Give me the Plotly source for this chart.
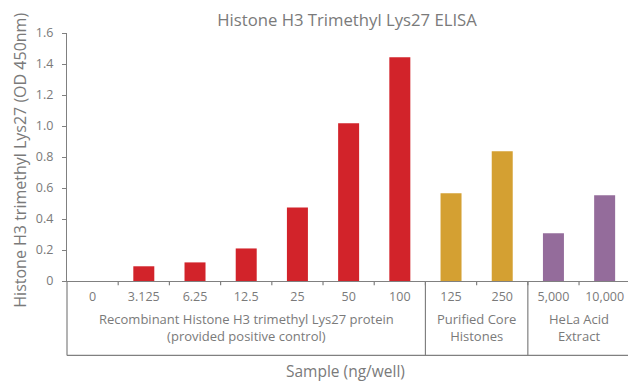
import plotly.graph_objects as go

# Sample amounts (ng/well) and measured OD 450nm
samples = ["0", "3.125", "6.25", "12.5", "25", "50", "100", "125", "250", "5,000", "10,000"]
od450 = [0.0, 0.095, 0.12, 0.21, 0.475, 1.017, 1.443, 0.566, 0.837, 0.308, 0.553]
groups = ["rec", "rec", "rec", "rec", "rec", "rec", "rec", "core", "core", "hela", "hela"]

group_colors = {"rec": "#D2232A", "core": "#D4A032", "hela": "#946C9B"}

y_tickvals = [0, 0.2, 0.4, 0.6, 0.8, 1.0, 1.2, 1.4, 1.6]
y_ticktext = ["0", "0.2", "0.4", "0.6", "0.8", "1.0", "1.2", "1.4", "1.6"]

FONT = "Open Sans"
GREY = "#808080"
TEXT = "#7a7a7a"

# figure geometry (pixels)
W, H = 628, 381
L, T = 66.5, 33
B = 100.3
plot_h = H - T - B


def py(pix):
    """Convert a pixel row to paper y."""
    return (H - B - pix) / plot_h


fig = go.Figure(
    go.Bar(
        x=list(range(len(samples))),
        y=od450,
        marker=dict(color=[group_colors[g] for g in groups], line=dict(width=0)),
        width=0.41,
        hoverinfo="x+y",
    )
)

# group separators and the box under the sample labels
bottom = py(355)
shapes = [
    dict(type="line", xref="paper", yref="paper", x0=0, x1=0, y0=0, y1=bottom,
         line=dict(color=GREY, width=1.2)),
    dict(type="line", xref="paper", yref="paper", x0=0, x1=1, y0=bottom, y1=bottom,
         line=dict(color=GREY, width=1.2)),
]
for xb in (6.5, 8.5):
    shapes.append(dict(type="line", xref="x", yref="paper", x0=xb, x1=xb, y0=0, y1=bottom,
                       line=dict(color=GREY, width=1.2)))

annotations = []
group_labels = [
    (3, "Recombinant Histone H3 trimethyl Lys27 protein<br>(provided positive control)"),
    (7.5, "Purified Core<br>Histones"),
    (9.5, "HeLa Acid<br>Extract"),
]
for xc, text in group_labels:
    annotations.append(dict(x=xc, y=py(327), xref="x", yref="paper", text=text,
                            showarrow=False, xanchor="center", yanchor="middle",
                            font=dict(family=FONT, size=13, color=TEXT)))

# axis titles
annotations.append(dict(x=(345 - L) / (W - L), y=py(371), xref="paper", yref="paper",
                        text="Sample (ng/well)", showarrow=False,
                        xanchor="center", yanchor="middle",
                        font=dict(family=FONT, size=15.5, color=TEXT)))
annotations.append(dict(x=(20 - L) / (W - L), y=py(160), xref="paper", yref="paper",
                        text="Histone H3 trimethyl Lys27 (OD 450nm)", showarrow=False,
                        textangle=-90, xanchor="center", yanchor="middle",
                        font=dict(family=FONT, size=16, color=TEXT)))

fig.update_layout(
    width=W, height=H,
    margin=dict(l=L, r=0, t=T, b=B, pad=0),
    paper_bgcolor="white", plot_bgcolor="white",
    showlegend=False,
    title=dict(text="Histone H3 Trimethyl Lys27 ELISA", x=347 / W, xanchor="center",
               y=1 - 20 / H, yanchor="middle",
               font=dict(family=FONT, size=16.7, color=TEXT)),
    xaxis=dict(
        range=[-0.5, -0.5 + (W - L) / 51.25],
        tickmode="array", tickvals=list(range(len(samples))), ticktext=samples,
        showgrid=False, zeroline=False,
        showline=True, linecolor=GREY, linewidth=1.2,
        ticks="", ticklabelstandoff=4,
        tickfont=dict(family=FONT, size=12.5, color=TEXT),
        fixedrange=True,
    ),
    yaxis=dict(
        range=[0, 1.6],
        tickmode="array", tickvals=y_tickvals, ticktext=y_ticktext,
        showgrid=False, zeroline=False,
        showline=True, linecolor=GREY, linewidth=1.2,
        ticks="outside", ticklen=4, tickcolor=GREY, tickwidth=1.2,
        ticklabelstandoff=6,
        tickfont=dict(family=FONT, size=12.5, color=TEXT),
        fixedrange=True,
    ),
    shapes=shapes,
    annotations=annotations,
)

# boundary ticks between sample columns, hanging below the baseline
for k in range(1, len(samples)):
    fig.add_shape(type="line", xref="x", yref="paper", x0=k - 0.5, x1=k - 0.5,
                  y0=0, y1=py(285), line=dict(color=GREY, width=1.2))

fig.write_html("out.html")
